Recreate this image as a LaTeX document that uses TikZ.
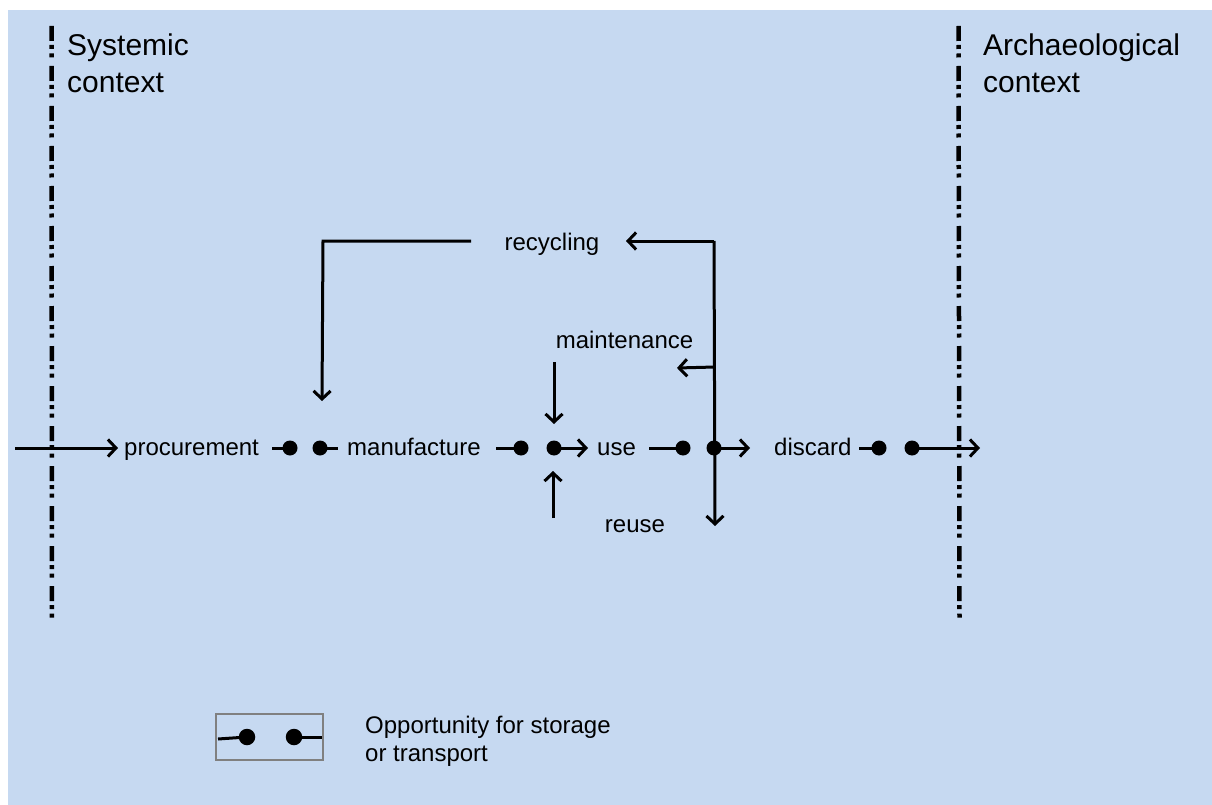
\documentclass[tikz,border=0pt]{standalone}
\usepackage{fontspec}
\setmainfont{Liberation Sans}
\usetikzlibrary{arrows.meta}
\definecolor{bgblue}{HTML}{C6D9F1}
\definecolor{boxgray}{HTML}{808080}
\tikzset{
  ln/.style={line width=3pt},
  arr/.style={line width=3pt,-{Straight Barb[length=8pt,width=17pt,line width=3pt]}},
  dot/.style={circle,fill=black,inner sep=0pt,minimum size=15pt},
  bigdot/.style={circle,fill=black,inner sep=0pt,minimum size=16.5pt},
  lbl/.style={inner sep=0pt,font=\fontsize{24}{28}\selectfont},
  ctx/.style={inner sep=0pt,anchor=north west,align=left,font=\fontsize{30}{37}\selectfont},
  border/.style={line width=4.5pt,dash pattern=on 15pt off 4pt on 4pt off 4.5pt on 4pt off 8.5pt},
}
\begin{document}
\begin{tikzpicture}[x=1pt,y=-1pt]
\useasboundingbox (0,0) rectangle (1212,805);
\fill[bgblue] (8,10) rectangle (1212,805);

% context boundaries
\coordinate (sysTop) at (51.5,26);
\coordinate (sysBot) at (52,623);
\coordinate (arcTop) at (958.5,26);
\coordinate (arcBot) at (959.5,623);
\draw[border] (sysTop) -- (sysBot);
\draw[border] (arcTop) -- (arcBot);
\node[ctx] (sys) at (67,34) {Systemic\\context};
\node[ctx] (arc) at (983,34) {Archaeological\\context};

% main sequence labels
\node[lbl,anchor=base west] (proc) at (124,455) {procurement};
\node[lbl,anchor=base west] (manu) at (347,455) {manufacture};
\node[lbl,anchor=base west] (use)  at (597,455) {use};
\node[lbl,anchor=base west] (disc) at (774,455) {discard};
\node[lbl,anchor=base] (recy) at (552,250) {recycling};
\node[lbl,anchor=base] (main) at (624.5,348) {maintenance};
\node[lbl,anchor=base] (reus) at (635,532) {reuse};

% storage / transport points
\node[dot] (d1) at (290,448) {};
\node[dot] (d2) at (320,448) {};
\node[dot] (d3) at (521,448) {};
\node[dot] (d4) at (554,448) {};
\node[dot] (d5) at (683,448) {};
\node[dot] (d6) at (714,448) {};
\node[dot] (d7) at (879,448) {};
\node[dot] (d8) at (912,448) {};

% line ends
\coordinate (in)  at (15,448);
\coordinate (inE) at (118,448);
\coordinate (s1)  at (272,448);
\coordinate (s2)  at (338,448);
\coordinate (s3)  at (496,448);
\coordinate (a4)  at (588,448);
\coordinate (s5)  at (649,448);
\coordinate (a6)  at (750,448);
\coordinate (s7)  at (859,448);
\coordinate (a8)  at (980,448);

\draw[arr] (in) -- (inE);
\draw[ln] (s1) -- (d1.center);
\draw[ln] (d2.center) -- (s2);
\draw[ln] (s3) -- (d3.center);
\draw[arr] (d4.center) -- (a4);
\draw[ln] (s5) -- (d5.center);
\draw[arr] (d6.center) -- (a6);
\draw[ln] (s7) -- (d7.center);
\draw[arr] (d8.center) -- (a8);

% feedback loops
\coordinate (rTop)  at (714,241);
\coordinate (rBot)  at (715,526);
\coordinate (rTip)  at (626,241);
\coordinate (rLeft) at (471,241);
\coordinate (rCorn) at (323,241);
\coordinate (rDown) at (322,401);
\coordinate (mFrom) at (715,367);
\coordinate (mTo)   at (677,368);
\coordinate (mTop)  at (554,362);
\coordinate (mDown) at (554,424);
\coordinate (uBot)  at (553,518);
\coordinate (uTip)  at (553,471);

\draw[arr] (rTop) -- (rBot);
\draw[arr] (rTop) -- (rTip);
\draw[arr] (rLeft) -- (rCorn) -- (rDown);
\draw[arr] (mFrom) -- (mTo);
\draw[arr] (mTop) -- (mDown);
\draw[arr] (uBot) -- (uTip);

% legend
\node[draw=boxgray,line width=1.5pt,minimum width=107pt,minimum height=46pt,inner sep=0pt] (key) at (269.5,737) {};
\node[bigdot] (k1) at (247,737) {};
\node[bigdot] (k2) at (294,737) {};
\coordinate (k1s) at (218,739);
\coordinate (k2s) at (322,737);
\draw[ln] (k1s) -- (k1.center);
\draw[ln] (k2.center) -- (k2s);
\node[lbl,anchor=north west,align=left] (keytxt) at (365,716) {Opportunity for storage\\or transport};
\end{tikzpicture}
\end{document}
